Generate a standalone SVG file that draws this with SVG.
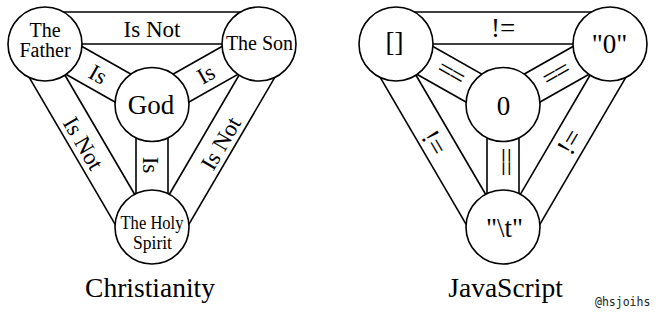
<svg xmlns="http://www.w3.org/2000/svg" width="659" height="317" viewBox="0 0 659 317">
<style>
.ln{stroke:#000;stroke-width:1.6;fill:none}
.nd{fill:#fff;stroke:#000;stroke-width:1.6}
text{font-family:"Liberation Serif","Times New Roman",serif;fill:#000;text-anchor:middle}
.nl{font-size:20px}
.hs{font-size:18.5px}
.big{font-size:27px}
.el{font-size:23px}
.js{font-size:27px}
.eq{font-size:27px;letter-spacing:-2px}
.title{font-size:27.5px}
.sig{font-family:"DejaVu Sans Mono","Liberation Mono",monospace;font-size:11.5px;text-anchor:start;fill:#222}
</style>
<defs>
<g id="bands">
<line class="ln" x1="45" y1="44" x2="259" y2="44"/>
<line class="ln" x1="45" y1="12" x2="259" y2="12"/>
<line class="ln" x1="37.13" y1="57.93" x2="144.13" y2="118.43"/>
<line class="ln" x1="52.88" y1="30.07" x2="159.88" y2="90.57"/>
<line class="ln" x1="266.87" y1="57.93" x2="159.87" y2="118.43"/>
<line class="ln" x1="251.12" y1="30.07" x2="144.12" y2="90.57"/>
<line class="ln" x1="46.3" y1="43.24" x2="153.3" y2="226.24"/>
<line class="ln" x1="18.67" y1="59.39" x2="125.67" y2="242.39"/>
<line class="ln" x1="257.7" y1="43.24" x2="150.7" y2="226.24"/>
<line class="ln" x1="285.33" y1="59.39" x2="178.33" y2="242.39"/>
<line class="ln" x1="136" y1="104.5" x2="136" y2="227"/>
<line class="ln" x1="168" y1="104.5" x2="168" y2="227"/>
</g>
</defs>
<g id="connectors">
<use href="#bands"/>
<use href="#bands" transform="translate(351,0)"/>
<g id="christianity-labels">
<text class="el" x="152" y="36.5">Is Not</text>
<text class="el" transform="translate(98,74.5) rotate(29.5)" y="7.5">Is</text>
<text class="el" transform="translate(206,74.5) rotate(-29.5)" y="7.5">Is</text>
<text class="el" transform="translate(83,143.5) rotate(59.7)" y="7.5">Is Not</text>
<text class="el" transform="translate(221,143.5) rotate(-59.7)" y="7.5">Is Not</text>
<text class="el" transform="translate(149.5,165) rotate(90)" y="7">Is</text>
</g>
<g id="javascript-labels">
<text class="js" x="503" y="36.5">!=</text>
<text class="eq" transform="translate(450,73.5) rotate(29.5)" y="7.5">==</text>
<text class="eq" transform="translate(556,75) rotate(-29.5)" y="7.5">==</text>
<text class="eq" transform="translate(504.5,161) rotate(90)" y="7.5">==</text>
<text class="js" transform="translate(434,143) rotate(59.7)" y="8.5">!=</text>
<text class="js" transform="translate(570,142) rotate(-59.7)" y="8.5">!=</text>
</g>
</g>
<g id="father"><circle class="nd" cx="45" cy="44" r="37"/><text class="nl" x="45" y="37">The</text><text class="nl" x="45" y="57">Father</text></g>
<g id="son"><circle class="nd" cx="259" cy="44" r="37"/><text class="nl" x="259.5" y="49.5">The Son</text></g>
<g id="god"><circle class="nd" cx="152" cy="104.5" r="37"/><text class="big" x="151" y="114">God</text></g>
<g id="spirit"><circle class="nd" cx="152" cy="227" r="37"/><text class="hs" x="152" y="229" textLength="63" lengthAdjust="spacingAndGlyphs">The Holy</text><text class="hs" x="152.5" y="249" textLength="39" lengthAdjust="spacingAndGlyphs">Spirit</text></g>
<g id="array"><circle class="nd" cx="396" cy="44" r="37"/><text class="js" x="394.5" y="51">[]</text></g>
<g id="string-zero"><circle class="nd" cx="610" cy="44" r="37"/><text class="js" x="609.5" y="53">"0"</text></g>
<g id="zero"><circle class="nd" cx="503" cy="104.5" r="37"/><text class="js" x="503.5" y="115">0</text></g>
<g id="tab"><circle class="nd" cx="503" cy="227" r="37"/><text class="js" x="504.5" y="237">"\t"</text></g>
<text class="title" x="150" y="296.5">Christianity</text>
<text class="title" x="505.5" y="296.5">JavaScript</text>
<text class="sig" x="595" y="306">@hsjoihs</text>
</svg>
